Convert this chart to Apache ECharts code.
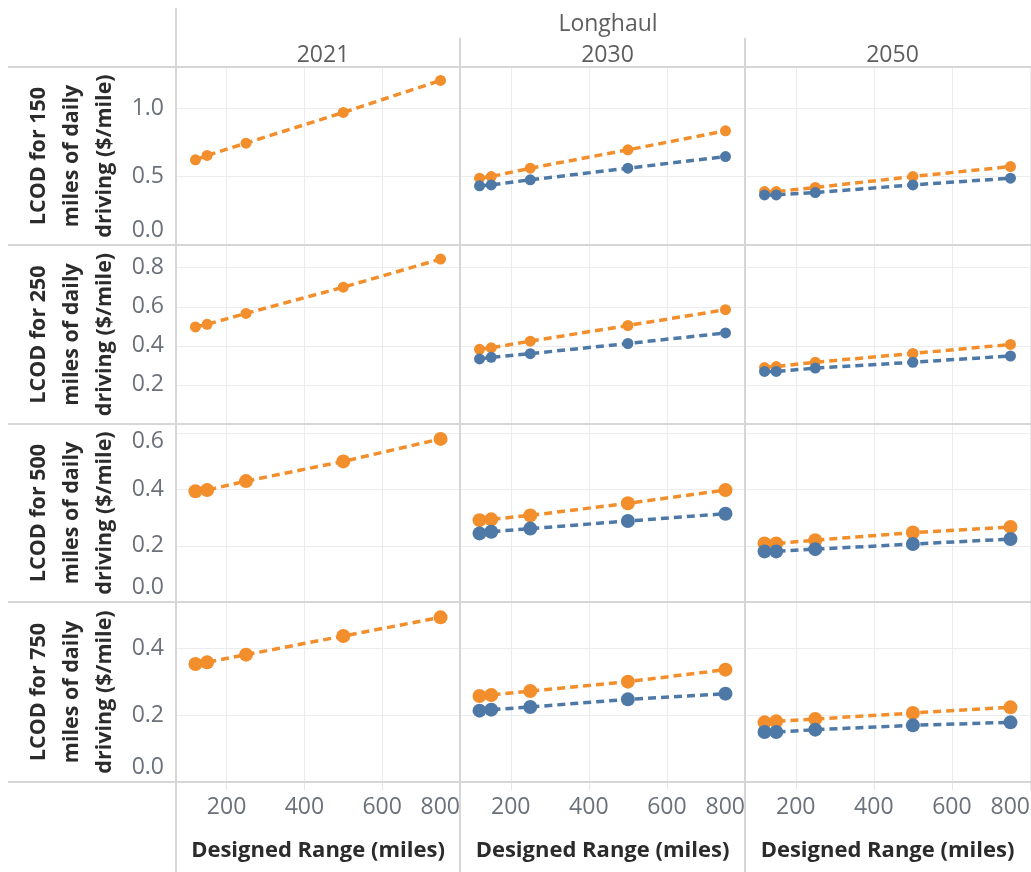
<!DOCTYPE html>
<html><head><meta charset="utf-8">
<script src="https://cdn.jsdelivr.net/npm/echarts@6/dist/echarts.min.js"></script>
<style>html,body{margin:0;padding:0;background:#fff}#c{width:1031px;height:872px}</style>
</head><body><div id="c"></div>
<script>
// ---------- data ----------
const groupLabel = 'Longhaul';
const years = ['2021', '2030', '2050'];
const rowLabels = [
  'LCOD for 150\nmiles of daily\ndriving ($/mile)',
  'LCOD for 250\nmiles of daily\ndriving ($/mile)',
  'LCOD for 500\nmiles of daily\ndriving ($/mile)',
  'LCOD for 750\nmiles of daily\ndriving ($/mile)'
];
const xTitle = 'Designed Range (miles)';
const ranges = [120, 150, 250, 500, 750];
const xTicks = [200, 400, 600, 800];
const yTicks = [[0, 0.5, 1.0], [0.2, 0.4, 0.6, 0.8], [0, 0.2, 0.4, 0.6], [0, 0.2, 0.4]];
const yMax = [1.3, 0.916, 0.633, 0.54];

// orange series, per row (150, 250, 500, 750 miles daily driving)
const orange2021 = [
  [0.622, 0.654, 0.744, 0.968, 1.202],
  [0.497, 0.510, 0.566, 0.700, 0.844],
  [0.394, 0.398, 0.430, 0.500, 0.580],
  [0.354, 0.359, 0.382, 0.438, 0.494]
];
const orange2030 = [
  [0.488, 0.500, 0.561, 0.695, 0.834],
  [0.382, 0.390, 0.424, 0.504, 0.585],
  [0.291, 0.294, 0.308, 0.351, 0.398],
  [0.258, 0.261, 0.273, 0.301, 0.337]
];
const orange2050 = [
  [0.390, 0.390, 0.420, 0.500, 0.573],
  [0.289, 0.294, 0.316, 0.361, 0.407],
  [0.208, 0.208, 0.220, 0.247, 0.267],
  [0.179, 0.182, 0.189, 0.207, 0.224]
];
// blue series (not present for 2021)
const blue2030 = [
  [0.432, 0.439, 0.476, 0.561, 0.646],
  [0.333, 0.341, 0.360, 0.412, 0.466],
  [0.244, 0.250, 0.261, 0.288, 0.314],
  [0.214, 0.217, 0.225, 0.248, 0.265]
];
const blue2050 = [
  [0.366, 0.366, 0.383, 0.439, 0.488],
  [0.269, 0.269, 0.286, 0.316, 0.348],
  [0.180, 0.180, 0.188, 0.206, 0.224],
  [0.150, 0.150, 0.157, 0.170, 0.179]
];
const orangeByYear = [orange2021, orange2030, orange2050];
const blueByYear = [null, blue2030, blue2050];

// ---------- layout ----------
const colLeft = [176, 460, 745];
const colWidth = [284, 285, 285];
const rowTop = [67, 245, 424, 602];
const rowHeight = [178, 179, 178, 180];
const ORANGE = '#F28E2B', BLUE = '#4E79A7';
const TICK_COLOR = '#6b717a';
const LABEL_FONT = '"Open Sans", "Noto Sans", sans-serif';
const BORDER = '#d6d6d6';

const grids = [], xAxes = [], yAxes = [], series = [];

for (let r = 0; r < 4; r++) {
  for (let c = 0; c < 3; c++) {
    const idx = r * 3 + c;
    grids.push({
      left: colLeft[c], top: rowTop[r], width: colWidth[c], height: rowHeight[r],
      containLabel: false, outerBoundsMode: 'none', show: false
    });
    const bottomRow = r === 3;
    xAxes.push({
      type: 'value', gridIndex: idx, min: 70, max: 800,
      axisLine: { show: false },
      axisTick: { show: bottomRow, customValues: xTicks, length: 8, lineStyle: { color: '#e6e6e6' } },
      axisLabel: {
        show: bottomRow, customValues: xTicks, margin: 14,
        fontFamily: LABEL_FONT, fontSize: 23, color: TICK_COLOR,
        alignMaxLabel: 'right'
      },
      splitLine: { show: true, lineStyle: { color: '#ececec', width: 1 } },
      name: bottomRow ? xTitle : '', nameLocation: 'middle', nameGap: 58, nameMoveOverlap: false,
      nameTextStyle: { fontFamily: LABEL_FONT, fontWeight: 'bold', fontSize: 22, color: '#2b2b2b' }
    });
    const ticks = yTicks[r];
    yAxes.push({
      type: 'value', gridIndex: idx, min: 0, max: yMax[r],
      interval: r === 0 ? 0.5 : 0.2,
      axisLine: { show: false }, axisTick: { show: false },
      axisLabel: {
        show: c === 0, margin: 12, showMaxLabel: false,
        fontFamily: LABEL_FONT, fontSize: 23, color: TICK_COLOR,
        formatter: function (v) {
          const hit = ticks.some(t => Math.abs(t - v) < 1e-6);
          if (!hit) return '';
          const s = v.toFixed(1);
          if (Math.abs(v) < 1e-6) return '{up|' + s + '}';
          if (r === 2 && Math.abs(v - 0.6) < 1e-6) return '{down|' + s + '}';
          return s;
        },
        rich: {
          up: { fontFamily: LABEL_FONT, fontSize: 23, color: TICK_COLOR, padding: [0, 0, 30, 0] },
          down: { fontFamily: LABEL_FONT, fontSize: 23, color: TICK_COLOR, padding: [16, 0, 0, 0] }
        }
      },
      splitLine: { show: true, lineStyle: { color: '#ececec', width: 1 } },
      name: c === 0 ? rowLabels[r] : '', nameLocation: 'middle', nameRotate: 90, nameGap: 55, nameMoveOverlap: false,
      nameTextStyle: { fontFamily: LABEL_FONT, fontWeight: 'bold', fontSize: 21.5, color: '#2b2b2b', lineHeight: 33, align: 'center' }
    });
    const symSize = r < 2 ? 11 : 14;
    const mk = (vals, color, name) => ({
      type: 'line', name: name, xAxisIndex: idx, yAxisIndex: idx,
      data: ranges.map((x, i) => [x, vals[i]]),
      symbol: 'circle', symbolSize: symSize, showSymbol: true,
      lineStyle: { color: color, width: 3.5, type: [8, 5] },
      itemStyle: { color: color },
      emphasis: { disabled: true }, animation: false
    });
    series.push(mk(orangeByYear[c][r], ORANGE, 'Orange ' + years[c]));
    if (blueByYear[c]) series.push(mk(blueByYear[c][r], BLUE, 'Blue ' + years[c]));
  }
}

const titles = [{
  text: groupLabel, left: 603, top: 8, textAlign: 'center',
  textStyle: { fontFamily: LABEL_FONT, fontWeight: 'normal', fontSize: 23, color: '#5e5e5e' }
}];
years.forEach((y, c) => titles.push({
  text: y, left: colLeft[c] + colWidth[c] / 2, top: 39, textAlign: 'center',
  textStyle: { fontFamily: LABEL_FONT, fontWeight: 'normal', fontSize: 23, color: '#5e5e5e' }
}));

const lineEl = (x1, y1, x2, y2) => ({
  type: 'line', silent: true, z: 100,
  shape: { x1, y1, x2, y2 },
  style: { stroke: BORDER, lineWidth: 2 }
});
const graphic = [];
[67, 245, 424, 602, 782].forEach(y => graphic.push(lineEl(8, y, 1031, y)));
graphic.push(lineEl(176, 8, 176, 872));
graphic.push(lineEl(460, 38, 460, 872));
graphic.push(lineEl(745, 38, 745, 872));

const chart = echarts.init(document.getElementById('c'), null, { renderer: 'canvas' });
chart.setOption({
  animation: false,
  backgroundColor: '#ffffff',
  title: titles,
  grid: grids, xAxis: xAxes, yAxis: yAxes, series: series,
  graphic: graphic
});
</script></body></html>
